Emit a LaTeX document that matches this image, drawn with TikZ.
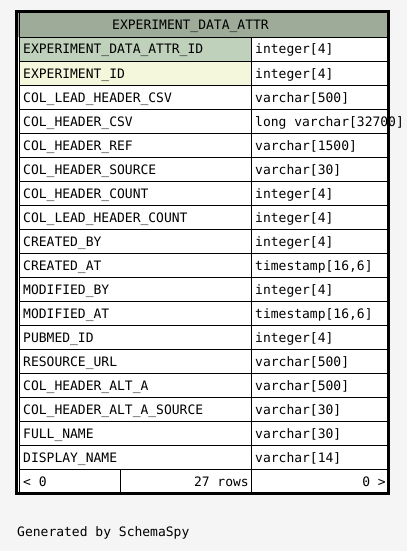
\documentclass[tikz,border=0pt]{standalone}
\usepackage{fontspec}
\setmonofont{DejaVu Sans Mono}
\definecolor{bg}{HTML}{F5F5F5}
\definecolor{hdr}{HTML}{9DAB98}
\definecolor{pk}{HTML}{BFD1BB}
\definecolor{fk}{HTML}{F5F7DD}
\begin{document}
\begin{tikzpicture}[x=1pt,y=-1pt,
  txt/.style={font=\ttfamily\fontsize{13}{15}\selectfont, inner sep=0pt, text=black},
  gridline/.style={line width=1pt, black},
  frame/.style={line width=3pt, black}]
\useasboundingbox[fill=bg] (0,0) rectangle (407,551);
% cell backgrounds
\fill[white] (18,12) rectangle (387,493);
\fill[hdr] (18,12) rectangle (387,37);
\fill[pk] (19,37) rectangle (251,61);
\fill[fk] (19,61) rectangle (251,85);
% title
\node[txt, anchor=base] (title) at (190.5,30) {EXPERIMENT\_DATA\_ATTR};
% rows
\foreach \n/\t [count=\i, evaluate=\i as \y using 30+24*\i] in {
  EXPERIMENT\_DATA\_ATTR\_ID/{integer[4]},
  EXPERIMENT\_ID/{integer[4]},
  COL\_LEAD\_HEADER\_CSV/{varchar[500]},
  COL\_HEADER\_CSV/{long varchar[32700]},
  COL\_HEADER\_REF/{varchar[1500]},
  COL\_HEADER\_SOURCE/{varchar[30]},
  COL\_HEADER\_COUNT/{integer[4]},
  COL\_LEAD\_HEADER\_COUNT/{integer[4]},
  CREATED\_BY/{integer[4]},
  CREATED\_AT/{timestamp[16,6]},
  MODIFIED\_BY/{integer[4]},
  MODIFIED\_AT/{timestamp[16,6]},
  PUBMED\_ID/{integer[4]},
  RESOURCE\_URL/{varchar[500]},
  COL\_HEADER\_ALT\_A/{varchar[500]},
  COL\_HEADER\_ALT\_A\_SOURCE/{varchar[30]},
  FULL\_NAME/{varchar[30]},
  DISPLAY\_NAME/{varchar[14]}} {
  \node[txt, anchor=base west] (n\i) at (23,\y) {\n};
  \node[txt, anchor=base west] (t\i) at (255,\y) {\t};
}
% footer
\node[txt, anchor=base west] (fl) at (23,486) {< 0};
\node[txt, anchor=base east] (fc) at (249,486) {27 rows};
\node[txt, anchor=base east] (fr) at (386,486) {0 >};
% grid
\foreach \k in {0,...,18} {
  \draw[gridline] (19,{37.5+24*\k}) -- (387,{37.5+24*\k});
}
\draw[gridline] (19.5,12) -- (19.5,493);
\draw[gridline] (251.5,37) -- (251.5,493);
\draw[gridline] (120.5,469) -- (120.5,493);
% outer frame
\draw[frame] (16.5,11.5) rectangle (388.5,493.5);
% caption
\node[txt, anchor=base west] (gen) at (17,536) {Generated by SchemaSpy};
\end{tikzpicture}
\end{document}
